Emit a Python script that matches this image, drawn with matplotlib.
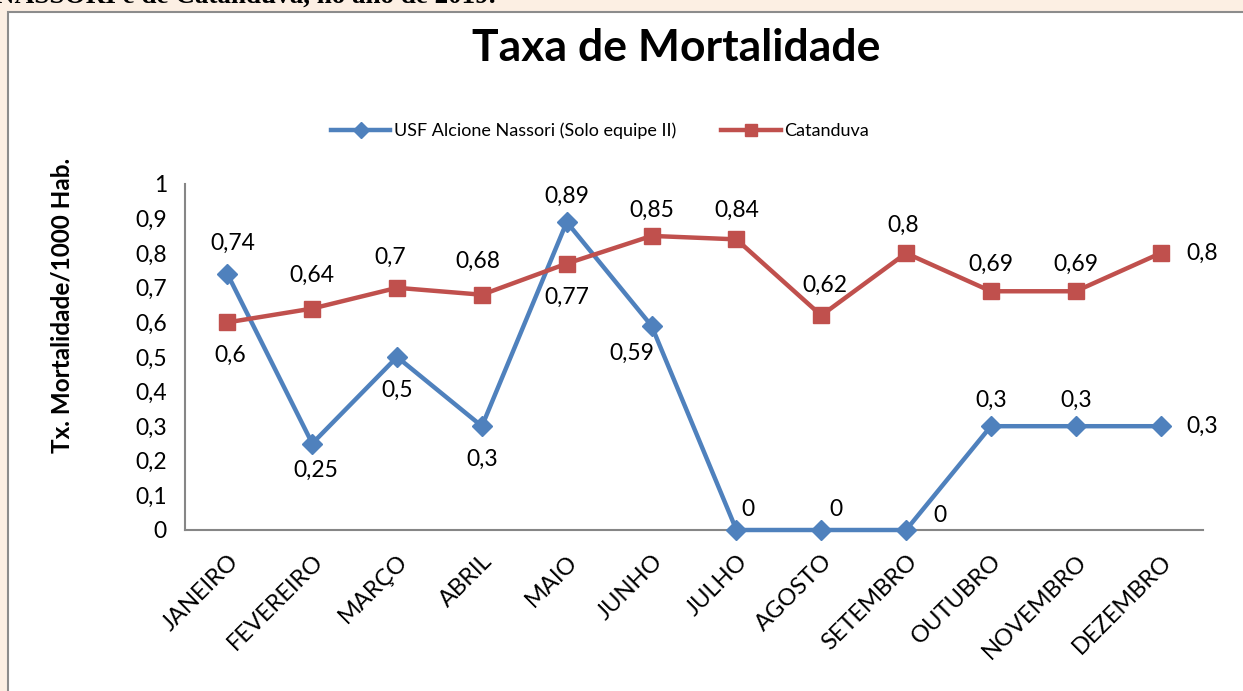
import matplotlib
matplotlib.use("Agg")
import matplotlib.pyplot as plt
from matplotlib.patches import Rectangle

months = ["JANEIRO", "FEVEREIRO", "MARÇO", "ABRIL", "MAIO", "JUNHO", "JULHO",
          "AGOSTO", "SETEMBRO", "OUTUBRO", "NOVEMBRO", "DEZEMBRO"]
usf = [0.74, 0.25, 0.5, 0.3, 0.89, 0.59, 0, 0, 0, 0.3, 0.3, 0.3]
catanduva = [0.6, 0.64, 0.7, 0.68, 0.77, 0.85, 0.84, 0.62, 0.8, 0.69, 0.69, 0.8]
yticks = [0, 0.1, 0.2, 0.3, 0.4, 0.5, 0.6, 0.7, 0.8, 0.9, 1]
series_names = ["USF Alcione Nassori (Solo equipe II)", "Catanduva"]
title = "Taxa de Mortalidade"
ylabel = "Tx. Mortalidade/1000 Hab."

# label offsets (pixels) for data labels
usf_off = [(5, 31), (4, -27), (0, -33), (0, -33), (0, 26), (-20, -27),
           (12, 20), (15, 20), (34, 15), (0, 26), (0, 26), (42, 0)]
cat_off = [(3, -33), (0, 33), (-7, 30), (-4, 33), (0, -34), (0, 26),
           (0, 29), (4, 30), (-3, 28), (0, 27), (0, 27), (42, 0)]

W, H = 1243, 691
fig = plt.figure(figsize=(W / 100, H / 100), dpi=100)
fig.patch.set_facecolor("#FCEFE3")

# chart frame (white box)
frame = Rectangle((8 / W, -0.05), 1.1, (H - 12) / H + 0.05, transform=fig.transFigure,
                  facecolor="white", edgecolor="#8C8C8C", linewidth=1.5, zorder=-5)
fig.patches.append(frame)

# cropped caption text at the top
fig.text(-0.004, 1 - 3 / H, "NASSORI e de Catanduva, no ano de 2019.", family="Liberation Serif",
         fontweight="bold", fontsize=19.5, ha="left", va="baseline", color="black", zorder=-4)

ax = fig.add_axes([185 / W, 1 - 530 / H, (1203 - 185) / W, (530 - 184) / H])
ax.set_facecolor("none")
ax.set_zorder(2)
x = list(range(len(months)))
blue = "#4F81BD"
red = "#C0504D"
font = "Lato"
fs = 16.5

ax.plot(x, usf, color=blue, lw=3.2, marker="D", markersize=10.5, label=series_names[0],
        solid_joinstyle="round", zorder=3, clip_on=False)
ax.plot(x, catanduva, color=red, lw=3.2, marker="s", markersize=11, label=series_names[1],
        solid_joinstyle="round", zorder=3, clip_on=False)

for xi, v, (dx, dy) in zip(x, usf, usf_off):
    ax.annotate(f"{v:g}".replace(".", ","), (xi, v), xytext=(dx, dy), textcoords="offset pixels",
                ha="center", va="center", fontsize=fs, family=font)
for xi, v, (dx, dy) in zip(x, catanduva, cat_off):
    ax.annotate(f"{v:g}".replace(".", ","), (xi, v), xytext=(dx, dy), textcoords="offset pixels",
                ha="center", va="center", fontsize=fs, family=font)

ax.set_xlim(-0.5, len(months) - 0.5)
ax.set_ylim(0, 1)
ax.set_yticks(yticks)
ax.set_yticklabels([f"{t:g}".replace(".", ",") for t in yticks], fontsize=fs, family=font)
ax.set_xticks(x)
ax.set_xticklabels(months, rotation=45, ha="right", rotation_mode="anchor", fontsize=17,
                   family=font)
ax.tick_params(axis="both", length=0)
ax.tick_params(axis="y", pad=13)
ax.tick_params(axis="x", pad=15)
for s in ["top", "right"]:
    ax.spines[s].set_visible(False)
for s in ["left", "bottom"]:
    ax.spines[s].set_color("#868686")
    ax.spines[s].set_linewidth(1.5)

fig.text(62 / W, 1 - 305 / H, ylabel, rotation=90, ha="center", va="center",
         fontsize=17.5, fontweight="bold", family=font)
fig.text(676 / W, 1 - 48 / H, title, ha="center", va="center", fontsize=32,
         fontweight="bold", family=font)

leg = fig.legend(loc="center", bbox_to_anchor=(600 / W, 1 - 131 / H), ncol=2, frameon=False,
                 prop={"family": font, "size": 13}, handlelength=3.3, columnspacing=2.5,
                 handletextpad=0.2, markerscale=0.8)

fig.savefig("out.png", dpi=100, facecolor=fig.get_facecolor())
